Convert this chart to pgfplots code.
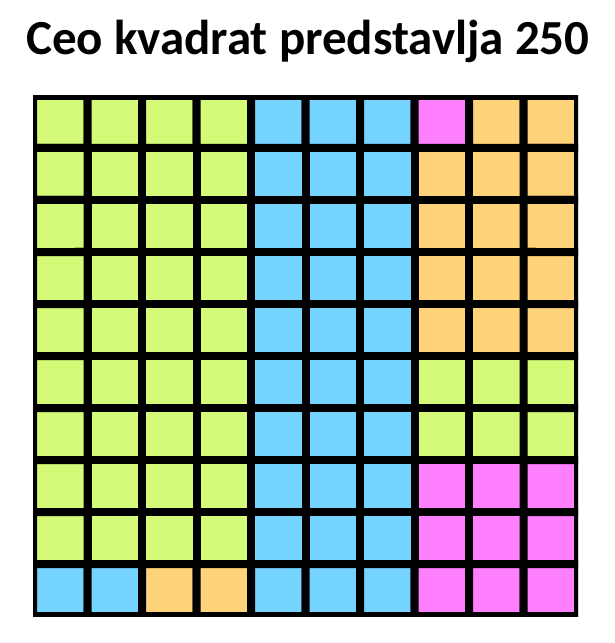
\documentclass[border=0pt]{standalone}
\usepackage{pgfplots}
\pgfplotsset{compat=1.18}
\usepackage{fontspec}
\setmainfont{Carlito}
\begin{document}
\begin{tikzpicture}[x=1pt,y=1pt]
\useasboundingbox (0,0) rectangle (614,643);
\node[anchor=base, inner sep=0pt, font=\fontsize{49}{56}\selectfont\bfseries] at (308,588) {Ceo kvadrat predstavlja 250};
\begin{axis}[
  at={(33pt,27pt)}, anchor=south west,
  scale only axis, width=545pt, height=520pt,
  xmin=-0.5, xmax=9.5, ymin=-0.5, ymax=9.5,
  y dir=reverse,
  hide axis,
  colormap={waffle}{rgb255=(212,250,120) rgb255=(117,211,255) rgb255=(255,211,122) rgb255=(255,128,255)},
  colormap access=direct,
]
\addplot[matrix plot, mesh/cols=10, point meta=explicit, draw=black, line width=8pt, line join=round]
table[meta=c]{
x y c
0 0 0
1 0 0
2 0 0
3 0 0
4 0 1
5 0 1
6 0 1
7 0 3
8 0 2
9 0 2
0 1 0
1 1 0
2 1 0
3 1 0
4 1 1
5 1 1
6 1 1
7 1 2
8 1 2
9 1 2
0 2 0
1 2 0
2 2 0
3 2 0
4 2 1
5 2 1
6 2 1
7 2 2
8 2 2
9 2 2
0 3 0
1 3 0
2 3 0
3 3 0
4 3 1
5 3 1
6 3 1
7 3 2
8 3 2
9 3 2
0 4 0
1 4 0
2 4 0
3 4 0
4 4 1
5 4 1
6 4 1
7 4 2
8 4 2
9 4 2
0 5 0
1 5 0
2 5 0
3 5 0
4 5 1
5 5 1
6 5 1
7 5 0
8 5 0
9 5 0
0 6 0
1 6 0
2 6 0
3 6 0
4 6 1
5 6 1
6 6 1
7 6 0
8 6 0
9 6 0
0 7 0
1 7 0
2 7 0
3 7 0
4 7 1
5 7 1
6 7 1
7 7 3
8 7 3
9 7 3
0 8 0
1 8 0
2 8 0
3 8 0
4 8 1
5 8 1
6 8 1
7 8 3
8 8 3
9 8 3
0 9 1
1 9 1
2 9 2
3 9 2
4 9 1
5 9 1
6 9 1
7 9 3
8 9 3
9 9 3
};
\end{axis}
\end{tikzpicture}
\end{document}
